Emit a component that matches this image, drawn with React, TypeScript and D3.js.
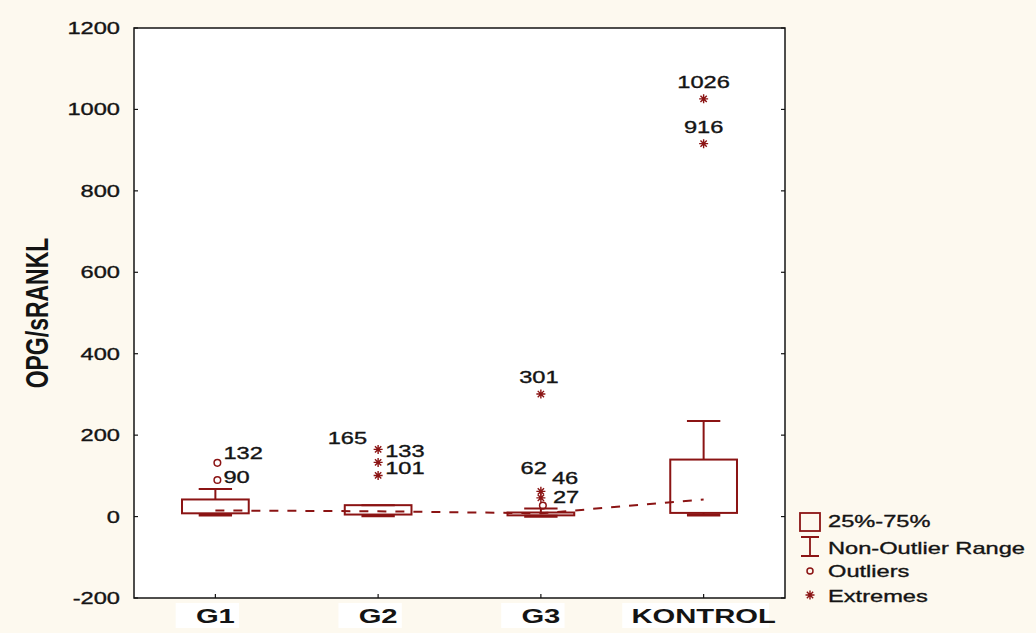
import { useEffect, useRef } from 'react';
import * as d3 from 'd3';

const categories = ['G1', 'G2', 'G3', 'KONTROL'];
const q1 = [8, 5, 3, 9];
const q3 = [42, 28, 10, 140];
const medians = [15, 13, 8, 42];
const whiskerLow = [4, 2, 1, 4];
const whiskerHigh = [68, 28, 20, 235];
const outlierGroup = ['G1', 'G1', 'G3'];
const outlierValues = [132, 90, 27];
const extremeGroup = ['G2', 'G2', 'G2', 'G3', 'G3', 'G3', 'KONTROL', 'KONTROL'];
const extremeValues = [165, 133, 101, 301, 62, 46, 1026, 916];
const yTicks = [-200, 0, 200, 400, 600, 800, 1000, 1200];
const legendLabels = ['25%-75%', 'Non-Outlier Range', 'Outliers', 'Extremes'];

const RED = '#8b1414';
const INK = '#141414';
const FONT = '"Liberation Sans", Arial, sans-serif';
const SX = 1.39; // source picture is stretched sideways

// where each point label sits relative to its marker: [dx, dy, anchor]
const labelPlace = {
  132: [6, -4, 'start'],
  90: [6, 3, 'start'],
  27: [10, -3, 'start'],
  165: [-11, -5, 'end'],
  133: [7, -5, 'start'],
  101: [7, -1, 'start'],
  301: [-2, -11, 'middle'],
  62: [6, -17, 'end'],
  46: [11, -14, 'start'],
  1026: [0, -11, 'middle'],
  916: [0, -11, 'middle'],
};

function text(g, x, y, str, size, opts: any = {}) {
  return g
    .append('text')
    .attr('transform', `translate(${x},${y}) scale(${SX},1)${opts.rotate ? ' rotate(-90)' : ''}`)
    .attr('text-anchor', opts.anchor || 'start')
    .attr('font-family', FONT)
    .attr('font-size', size)
    .attr('font-weight', opts.bold ? 'bold' : 'normal')
    .attr('fill', INK)
    .attr('stroke', opts.bold ? 'none' : INK)
    .attr('stroke-width', 0.35)
    .text(str);
}

function asterisk(g, cx, cy, r) {
  const d = `M${cx - r},${cy}H${cx + r}M${cx},${cy - r}V${cy + r}` +
    `M${cx - r * 0.7},${cy - r * 0.7}L${cx + r * 0.7},${cy + r * 0.7}` +
    `M${cx - r * 0.7},${cy + r * 0.7}L${cx + r * 0.7},${cy - r * 0.7}`;
  g.append('path').attr('d', d).attr('stroke', RED).attr('stroke-width', 1.4).attr('fill', 'none');
}

export default function App() {
  const ref = useRef(null);

  useEffect(() => {
    const width = 1036;
    const height = 633;
    const left = 134, right = 785, top = 28, bottom = 598;
    const svg = d3.select(ref.current).attr('width', width).attr('height', height);
    svg.selectAll('*').remove();

    svg.append('rect').attr('width', width).attr('height', height).attr('fill', '#fdf9ef');
    svg.append('rect').attr('x', left).attr('y', top).attr('width', right - left)
      .attr('height', bottom - top).attr('fill', '#fff');

    const x = d3.scaleBand().domain(categories).range([left, right]).padding(0);
    const y = d3.scaleLinear().domain([-200, 1200]).range([bottom, top]);
    const cx = c => x(c) + x.bandwidth() / 2;
    const boxW = x.bandwidth() * 0.41;
    const capW = boxW / 2;

    // axes frame and inner ticks
    const axes = svg.append('g');
    axes.append('rect').attr('x', left).attr('y', top).attr('width', right - left)
      .attr('height', bottom - top).attr('fill', 'none').attr('stroke', INK).attr('stroke-width', 1.5);
    yTicks.forEach(t => {
      axes.append('line').attr('x1', left).attr('x2', left + 4).attr('y1', y(t)).attr('y2', y(t))
        .attr('stroke', INK).attr('stroke-width', 1.2);
      axes.append('line').attr('x1', right).attr('x2', right - 4).attr('y1', y(t)).attr('y2', y(t))
        .attr('stroke', INK).attr('stroke-width', 1.2);
      text(axes, 120, y(t) + 6, String(t), 17, { anchor: 'end' });
    });
    categories.forEach(c => {
      axes.append('line').attr('x1', cx(c)).attr('x2', cx(c)).attr('y1', bottom).attr('y2', bottom - 4)
        .attr('stroke', INK).attr('stroke-width', 1.2);
      const wLab = c.length * 12 * SX + 30;
      axes.append('rect').attr('x', cx(c) - wLab / 2 - 8).attr('y', 603).attr('width', wLab)
        .attr('height', 25).attr('fill', '#fff');
      text(axes, cx(c), 623, c, 21, { anchor: 'middle', bold: true });
    });
    text(axes, 48, 313, 'OPG/sRANKL', 23, { anchor: 'middle', bold: true, rotate: true });

    // boxes and whiskers
    const plot = svg.append('g').attr('stroke', RED).attr('fill', 'none');
    categories.forEach((c, i) => {
      const m = cx(c);
      plot.append('line').attr('x1', m).attr('x2', m).attr('y1', y(q3[i])).attr('y2', y(whiskerHigh[i]))
        .attr('stroke-width', 2);
      plot.append('line').attr('x1', m - capW / 2).attr('x2', m + capW / 2)
        .attr('y1', y(whiskerHigh[i])).attr('y2', y(whiskerHigh[i])).attr('stroke-width', 2);
      plot.append('line').attr('x1', m).attr('x2', m).attr('y1', y(q1[i])).attr('y2', y(whiskerLow[i]))
        .attr('stroke-width', 2);
      plot.append('line').attr('x1', m - capW / 2).attr('x2', m + capW / 2)
        .attr('y1', y(whiskerLow[i])).attr('y2', y(whiskerLow[i])).attr('stroke-width', 3);
      plot.append('rect').attr('x', m - boxW / 2).attr('y', y(q3[i])).attr('width', boxW)
        .attr('height', Math.max(y(q1[i]) - y(q3[i]), 1)).attr('stroke-width', 2);
    });

    // dashed line through the medians
    const line = d3.line<number>().x((d, i) => cx(categories[i])).y(d => y(d));
    plot.append('path').attr('d', line(medians)).attr('stroke-width', 2).attr('stroke-dasharray', '9,9');

    // outliers and extremes with their labels
    const pts = svg.append('g');
    outlierValues.forEach((v, i) => {
      const px = cx(outlierGroup[i]) + 2, py = y(v);
      pts.append('circle').attr('cx', px).attr('cy', py).attr('r', 3.3)
        .attr('fill', 'none').attr('stroke', RED).attr('stroke-width', 1.5);
      const [dx, dy, a] = labelPlace[v];
      text(pts, px + dx, py + dy, String(v), 17, { anchor: a });
    });
    extremeValues.forEach((v, i) => {
      const px = cx(extremeGroup[i]), py = y(v);
      asterisk(pts, px, py, 4.5);
      const [dx, dy, a] = labelPlace[v];
      text(pts, px + dx, py + dy, String(v), 17, { anchor: a });
    });

    // legend
    const lg = svg.append('g');
    lg.append('rect').attr('x', 800).attr('y', 513).attr('width', 20).attr('height', 18)
      .attr('fill', 'none').attr('stroke', RED).attr('stroke-width', 1.8);
    lg.append('path').attr('d', 'M810,537V556M801,537H819M801,556H819')
      .attr('stroke', RED).attr('stroke-width', 1.8).attr('fill', 'none');
    lg.append('circle').attr('cx', 810).attr('cy', 571).attr('r', 3)
      .attr('fill', 'none').attr('stroke', RED).attr('stroke-width', 1.5);
    asterisk(lg, 810, 595, 4.5);
    [527, 554, 577, 602].forEach((ly, i) => text(lg, 828, ly, legendLabels[i], 17));
  }, []);

  return <svg ref={ref} style={{ position: 'absolute', left: 0, top: 0, display: 'block' }} />;
}
